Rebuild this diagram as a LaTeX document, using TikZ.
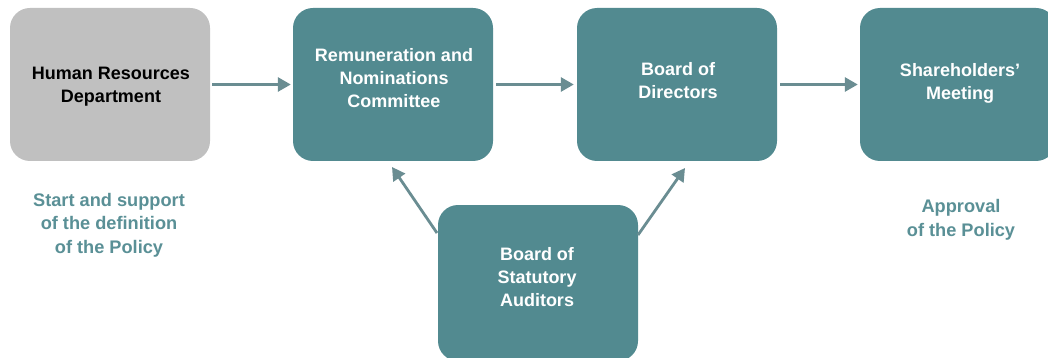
\documentclass[tikz,border=0pt]{standalone}
\usepackage{fontspec}
\setmainfont{Liberation Sans}
\usetikzlibrary{arrows.meta}
\definecolor{teal1}{HTML}{528A90}
\definecolor{gray1}{HTML}{C0C0C0}
\definecolor{arrowc}{HTML}{6A8D92}
\definecolor{labelc}{HTML}{5A9096}
\tikzset{
  box/.style={rectangle, rounded corners=20pt, minimum width=200pt, minimum height=153pt, inner sep=0pt, draw=none},
  tbox/.style={box, fill=teal1},
  gbox/.style={box, fill=gray1},
  txt/.style={align=center, font=\fontsize{18}{23}\selectfont\bfseries, inner sep=0pt},
  wtxt/.style={txt, text=white},
  ltxt/.style={txt, text=labelc, font=\fontsize{18.2}{23.5}\selectfont\bfseries},
  conn/.style={draw=arrowc, line width=2.8pt, -{Triangle[length=13pt,width=14pt]}}
}
\begin{document}
\begin{tikzpicture}[x=1pt,y=-1pt]
\useasboundingbox (0,0) rectangle (1048,358);
\clip (0,0) rectangle (1048,358);
\fill[white] (0,0) rectangle (1048,358);
% boxes
\node[gbox] (hr) at (110,84.5) {};
\node[tbox] (rnc) at (393,84.5) {};
\node[tbox] (bod) at (677,84.5) {};
\node[tbox, minimum width=196pt] (sm) at (958,84.5) {};
\node[tbox, minimum height=156pt] (aud) at (538,283) {};
% texts
\node[txt] (hrt) at (111,87) {Human Resources\\Department};
\node[wtxt] (rnct) at (394,78) {Remuneration and\\Nominations\\Committee};
\node[wtxt] (bodt) at (678,81) {Board of\\Directors};
\node[wtxt] (smt) at (960,83) {Shareholders’\\Meeting};
\node[wtxt] (audt) at (537,277) {Board of\\Statutory\\Auditors};
\node[ltxt] (l1) at (109,225) {Start and support\\of the definition\\of the Policy};
\node[ltxt] (l2) at (961,220) {Approval\\of the Policy};
% connector points
\coordinate (a1) at ([xshift=2pt]hr.east);
\coordinate (a2) at ([xshift=-2pt]rnc.west);
\coordinate (b1) at ([xshift=3pt]rnc.east);
\coordinate (b2) at ([xshift=-3pt]bod.west);
\coordinate (c1) at ([xshift=3pt]bod.east);
\coordinate (c2) at ([xshift=-2pt]sm.west);
\coordinate (d1) at (437,233);
\coordinate (d2) at (392,167);
\coordinate (e1) at (638,235);
\coordinate (e2) at (685,168);
\draw[conn] (a1) -- (a2);
\draw[conn] (b1) -- (b2);
\draw[conn] (c1) -- (c2);
\draw[conn] (d1) -- (d2);
\draw[conn] (e1) -- (e2);
\end{tikzpicture}
\end{document}
